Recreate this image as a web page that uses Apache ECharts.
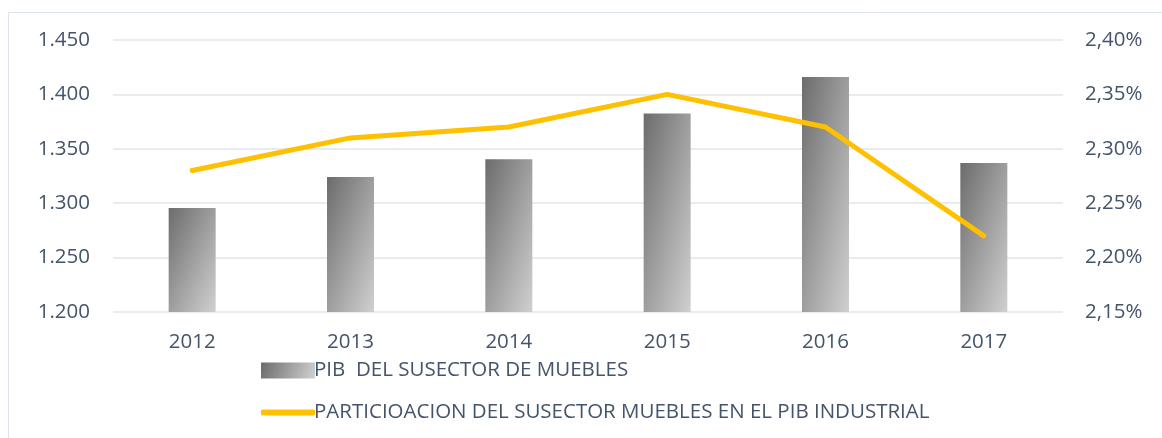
<!DOCTYPE html>
<html>
<head>
<meta charset="utf-8">
<script src="https://cdn.jsdelivr.net/npm/echarts@6/dist/echarts.min.js"></script>
<style>
  html, body { margin: 0; padding: 0; background: #fff; }
  #box { width: 1162px; height: 438px; }
</style>
</head>
<body>
<div id="box"></div>
<script>
var years = ['2012', '2013', '2014', '2015', '2016', '2017'];
var pibMuebles = [1295.5, 1324, 1340.5, 1382.5, 1416, 1337];
var participacion = [2.28, 2.31, 2.32, 2.35, 2.32, 2.22];
var barName = 'PIB  DEL SUSECTOR DE MUEBLES';
var lineName = 'PARTICIOACION DEL SUSECTOR MUEBLES EN EL PIB INDUSTRIAL';

var textColor = '#44546a';
var fontFam = '"Open Sans", sans-serif';

// diagonal shading like Excel's: dark top-left, light bottom-right
function barFill(params) {
    var w = 47;
    var h = Math.max((params.value - 1200) / 250 * 272, 1);
    var k = 2 / (1 / (w * w) + 1 / (h * h));
    return new echarts.graphic.LinearGradient(0, 0, k / (w * w), k / (h * h), [
        { offset: 0, color: '#6c6c6c' },
        { offset: 1, color: '#d0d0d0' }
    ]);
}

var myChart = echarts.init(document.getElementById('box'));
var option = {
    animation: false,
    textStyle: { fontFamily: fontFam },
    graphic: [{
        type: 'rect',
        shape: { x: 8.5, y: 12.5, width: 1160, height: 430 },
        style: { fill: 'none', stroke: '#dde3ea', lineWidth: 1 }
    }],
    grid: { left: 113, right: 99, top: 40, bottom: 126 },
    legend: [{
        left: 256,
        top: 355,
        itemWidth: 54,
        itemHeight: 16,
        textStyle: { color: textColor, fontSize: 20.5, fontFamily: fontFam, padding: [0, 0, 0, -6] },
        data: [{ name: barName, icon: 'rect', itemStyle: { color: new echarts.graphic.LinearGradient(0, 0, 1, 1, [
            { offset: 0, color: '#6c6c6c' }, { offset: 1, color: '#d0d0d0' }]) } }]
    }, {
        left: 256,
        top: 397,
        itemWidth: 54,
        itemHeight: 6,
        textStyle: { color: textColor, fontSize: 20.5, fontFamily: fontFam, padding: [0, 0, 0, -6] },
        data: [{ name: lineName, icon: 'roundRect' }]
    }],
    xAxis: {
        type: 'category',
        data: years,
        axisLine: { show: false },
        axisTick: { show: false },
        axisLabel: { color: textColor, fontSize: 20.5, margin: 20 }
    },
    yAxis: [{
        type: 'value',
        min: 1200,
        max: 1450,
        interval: 50,
        axisLabel: {
            color: textColor, fontSize: 20.5, margin: 23,
            formatter: function (v) { return (v / 1000).toFixed(3); }
        },
        splitLine: { lineStyle: { color: '#e1e5ea', width: 1.5 } }
    }, {
        type: 'value',
        min: 2.15,
        max: 2.40,
        interval: 0.05,
        axisLabel: {
            color: textColor, fontSize: 20.5, margin: 22,
            formatter: function (v) { return v.toFixed(2).replace('.', ',') + '%'; }
        },
        splitLine: { show: false }
    }],
    series: [{
        name: barName,
        type: 'bar',
        barWidth: 47,
        data: pibMuebles,
        itemStyle: { color: barFill }
    }, {
        name: lineName,
        type: 'line',
        yAxisIndex: 1,
        data: participacion,
        symbol: 'none',
        lineStyle: { color: '#ffc000', width: 5, cap: 'round', join: 'round' },
        itemStyle: { color: '#ffc000' }
    }]
};
myChart.setOption(option);
</script>
</body>
</html>
